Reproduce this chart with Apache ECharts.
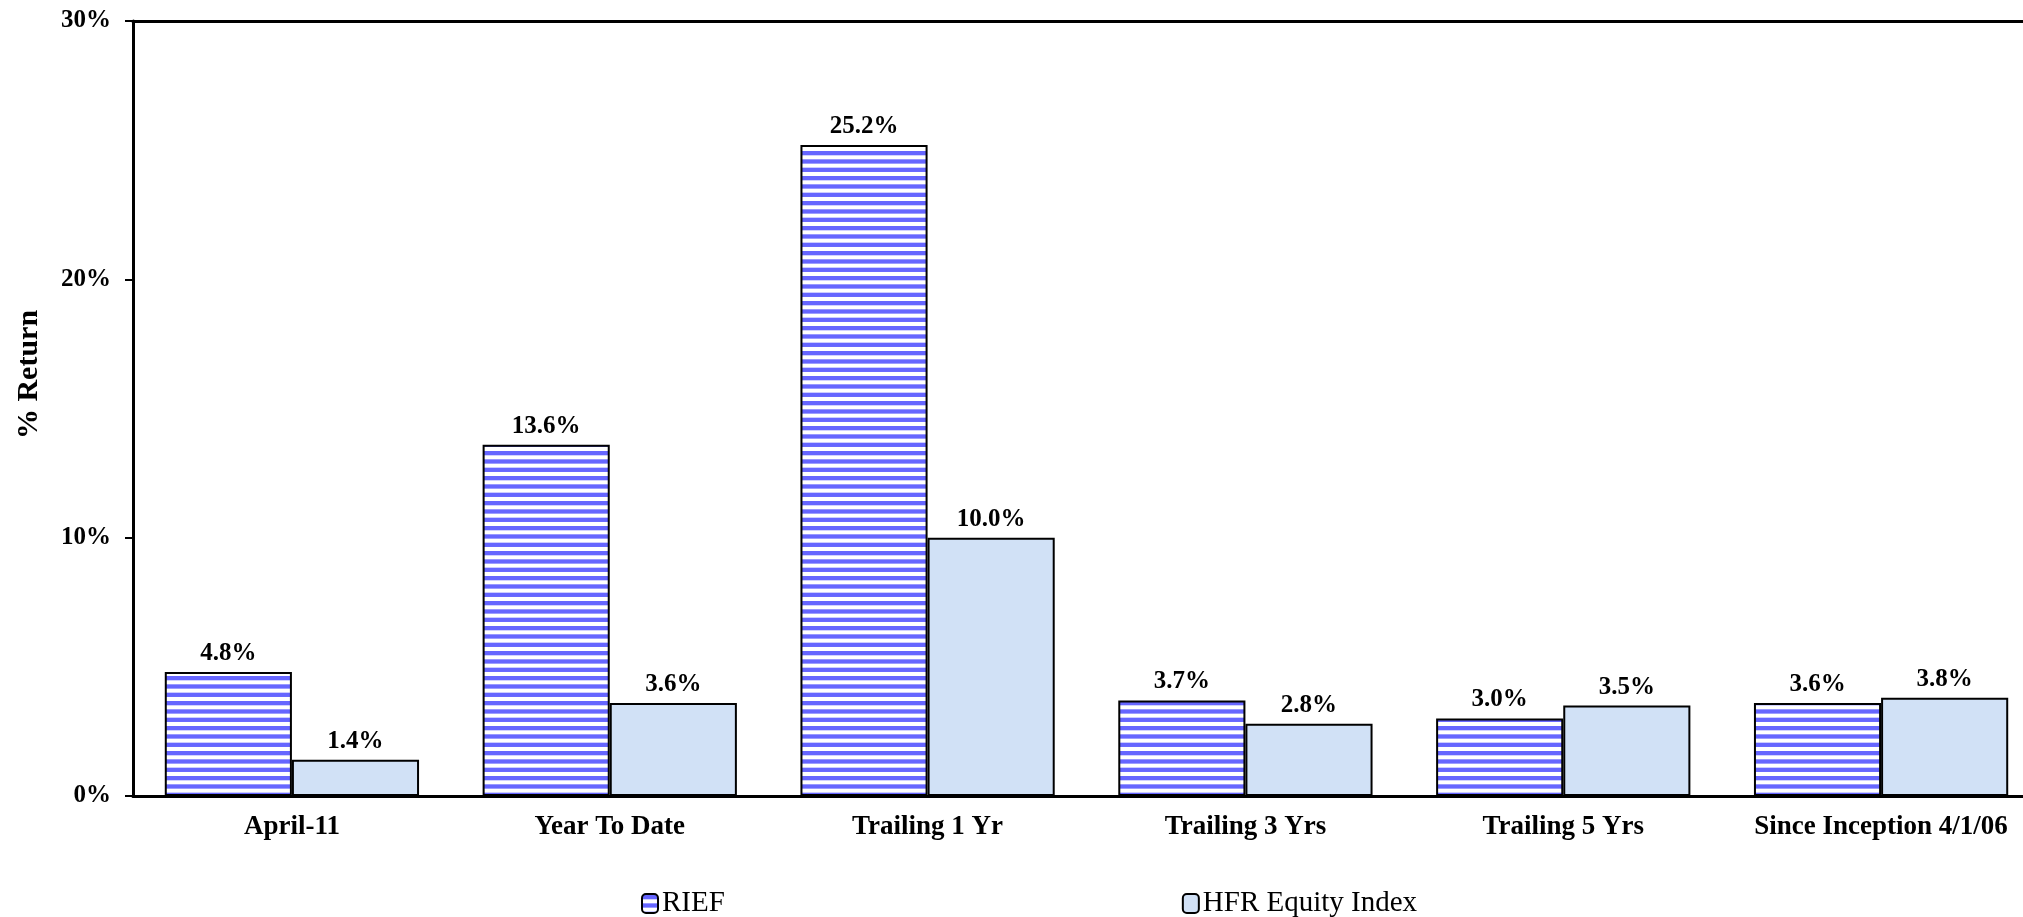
<!DOCTYPE html>
<html>
<head>
    <meta charset="utf-8">
    <title>RIEF vs HFR</title>
    <script src="https://cdn.jsdelivr.net/npm/echarts@6/dist/echarts.min.js"></script>
    <style>
        html, body {margin:0;padding:0;background:#fff;overflow:hidden;}
        #chart {width:2023px;height:917px;}
    </style>
</head>
<body>
<div id="chart"></div>
<script>
    var categories = ['April-11', 'Year To Date', 'Trailing 1 Yr', 'Trailing 3 Yrs', 'Trailing 5 Yrs', 'Since Inception 4/1/06'];
    var riefData = [4.8, 13.6, 25.2, 3.7, 3.0, 3.6];
    var hfrData = [1.4, 3.6, 10.0, 2.8, 3.5, 3.8];
    var seriesNames = ['RIEF', 'HFR Equity Index'];

    // striped fill for RIEF bars
    var cv = document.createElement('canvas');
    cv.width = 8; cv.height = 25;
    var ctx = cv.getContext('2d');
    ctx.fillStyle = '#ffffff';
    ctx.fillRect(0, 0, 8, 25);
    ctx.fillStyle = '#6666ff';
    for (var i = 0; i < 3; i++) {
        ctx.fillRect(0, i * 25 / 3 + 1, 8, 4.3);
    }

    var font = '"Liberation Serif", "Times New Roman", serif';
    var chart = echarts.init(document.getElementById('chart'));
    var labelStyle = {
        show: true, position: 'top', distance: 6,
        fontFamily: font, fontWeight: 'bold', fontSize: 25, color: '#000',
        formatter: function (p) { return p.value.toFixed(1) + '%'; }
    };
    chart.setOption({
        animation: false,
        textStyle: {fontFamily: font},
        // plot runs a little past the right edge, like the original
        grid: {left: 133, right: -17, top: 21, bottom: 121, containLabel: false, outerBoundsMode: 'none'},
        legend: {
            data: seriesNames,
            left: 636, bottom: -6,
            itemWidth: 16, itemHeight: 19, itemGap: 457,
            textStyle: {fontFamily: font, fontSize: 29, color: '#000', padding: [0, 0, 0, -1]}
        },
        xAxis: [{
            type: 'category',
            data: categories,
            axisLine: {lineStyle: {color: '#000', width: 3}},
            axisTick: {show: false},
            axisLabel: {
                interval: 0,
                hideOverlap: false,
                margin: 18,
                fontFamily: font, fontWeight: 'bold', fontSize: 27, color: '#000'
            }
        }, {
            type: 'category',
            position: 'top',
            data: categories,
            axisLine: {lineStyle: {color: '#000', width: 3}},
            axisTick: {show: false},
            axisLabel: {show: false}
        }],
        yAxis: {
            type: 'value',
            min: 0, max: 30, interval: 10,
            name: '% Return',
            nameLocation: 'middle',
            nameGap: 89,
            nameMoveOverlap: false,
            nameTextStyle: {fontFamily: font, fontWeight: 'bold', fontSize: 30, color: '#000', padding: [0, 0, 0, 68]},
            axisLine: {show: true, lineStyle: {color: '#000', width: 3}},
            axisTick: {show: true, length: 8, lineStyle: {color: '#000', width: 2}},
            axisLabel: {margin: 22, fontFamily: font, fontWeight: 'bold', fontSize: 25, color: '#000',
                formatter: '{value}%'},
            splitLine: {show: false}
        },
        series: [{
            name: seriesNames[0],
            type: 'bar',
            data: riefData,
            barGap: '0%',
            barCategoryGap: '20%',
            itemStyle: {color: {image: cv, repeat: 'repeat'}, borderColor: '#000', borderWidth: 2},
            label: labelStyle
        }, {
            name: seriesNames[1],
            type: 'bar',
            data: hfrData,
            itemStyle: {color: '#d1e1f6', borderColor: '#000', borderWidth: 2},
            label: labelStyle
        }]
    });
</script>
</body>
</html>
